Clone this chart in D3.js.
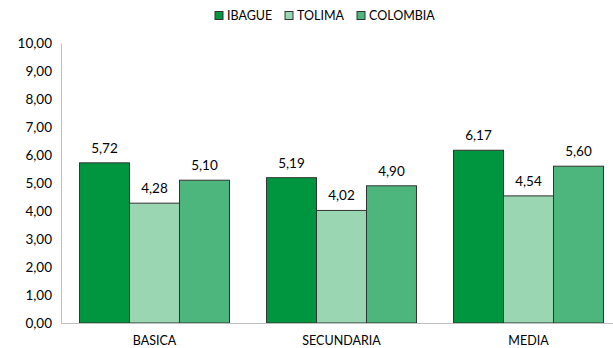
<!DOCTYPE html>
<html><head><meta charset="utf-8">
<script src="https://cdn.jsdelivr.net/npm/d3@7"></script>
<style>body{margin:0;background:#fff;}svg{display:block;font-family:Lato,"Noto Sans",sans-serif;}</style>
</head><body>
<script>
const categories = ["BASICA","SECUNDARIA","MEDIA"];
const seriesNames = ["IBAGUE","TOLIMA","COLOMBIA"];
const ibague = [5.72,5.19,6.17];
const tolima = [4.28,4.02,4.54];
const colombia = [5.10,4.90,5.60];
const yTicks = [0,1,2,3,4,5,6,7,8,9,10];
const colors = ["#009640","#9ad6b1","#4db67c"];

const W=613,H=348,FS=13.5,FC=12.5;
const svg=d3.select("body").append("svg").attr("width",W).attr("height",H);
const x0=d3.scaleBand().domain(categories).range([61,622]).paddingInner(0.198).paddingOuter(0.099);
const x1=d3.scaleBand().domain(seriesNames).range([0,x0.bandwidth()]);
const y=d3.scaleLinear().domain([0,10]).range([323,43]);
const fmt=v=>v.toFixed(2).replace(".",",");
const data=[ibague,tolima,colombia];

const ya=svg.append("g").attr("transform","translate(61,0)")
  .call(d3.axisLeft(y).tickValues(yTicks).tickFormat(fmt).tickSize(0).tickPadding(9));
ya.select(".domain").attr("stroke","#bfbfbf");
ya.selectAll("text").attr("font-size",FS).attr("fill","#000").attr("font-family","Lato");

categories.forEach((c,ci)=>{
  const g=svg.append("g").attr("transform",`translate(${x0(c)},0)`);
  seriesNames.forEach((s,si)=>{
    const v=data[si][ci];
    g.append("rect").attr("x",x1(s)).attr("y",y(v)).attr("width",x1.bandwidth()).attr("height",y(0)-y(v))
      .attr("fill",colors[si]).attr("stroke","#333").attr("stroke-width",1);
    g.append("text").attr("x",x1(s)+x1.bandwidth()/2).attr("y",y(v)-10).attr("text-anchor","middle")
      .attr("font-size",FS).text(fmt(v));
  });
});

const xa=svg.append("g").attr("transform","translate(0,323)")
  .call(d3.axisBottom(x0).tickSize(0).tickPadding(13.5));
xa.select(".domain").attr("stroke","#bfbfbf").attr("d","M61,0.5H613");
xa.selectAll("text").attr("font-size",FC).attr("fill","#000").attr("font-family","Lato");

const legX=[215,285,357];
seriesNames.forEach((s,i)=>{
  const lg=svg.append("g").attr("transform",`translate(${legX[i]},11.5)`);
  lg.append("rect").attr("x",0).attr("y",0).attr("width",8).attr("height",8).attr("fill",colors[i]).attr("stroke","#333");
  lg.append("text").attr("x",12).attr("y",8.5).attr("font-size",FC).text(s);
});
</script>
</body></html>
